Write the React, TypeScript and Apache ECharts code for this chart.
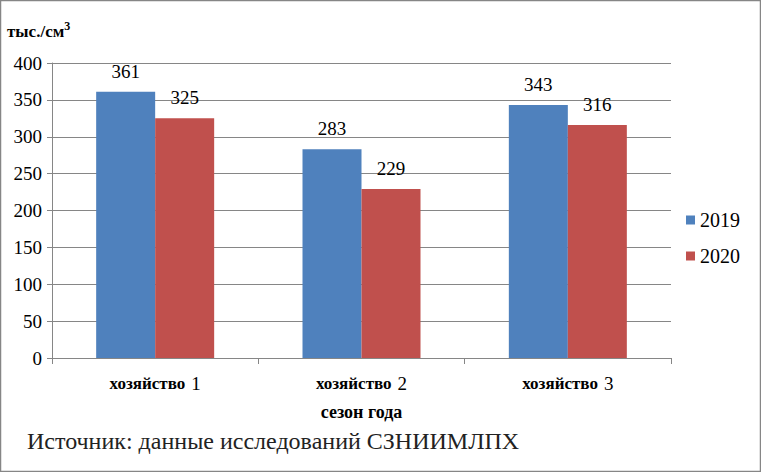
import React, { useEffect, useRef } from "react";
import * as echarts from "echarts";

const categories = ["хозяйство  1", "хозяйство  2", "хозяйство  3"];
const series2019 = [361, 283, 343];
const series2020 = [325, 229, 316];
const seriesNames = ["2019", "2020"];
const yTicks = { min: 0, max: 400, interval: 50 };

export default function App() {
  const ref = useRef<HTMLDivElement>(null);
  useEffect(() => {
    if (!ref.current) return;
    const chart = echarts.init(ref.current, null, { renderer: "svg" });
    const font = "Liberation Serif";
    chart.setOption({
      animation: false,
      backgroundColor: "#fff",
      textStyle: { fontFamily: font },
      grid: { left: 52, right: 90, top: 63, bottom: 114 },
      legend: {
        orient: "vertical",
        left: 681,
        top: 205,
        itemWidth: 9,
        itemHeight: 9,
        itemGap: 16,
        icon: "rect",
        textStyle: { fontFamily: font, fontSize: 20, color: "#000" },
        data: seriesNames,
      },
      xAxis: {
        type: "category",
        data: categories,
        axisLine: { lineStyle: { color: "#868686" } },
        axisTick: { show: true, length: 6, lineStyle: { color: "#868686" } },
        axisLabel: {
          margin: 16,
          color: "#000",
          fontFamily: font,
          formatter: (v: string) => {
            const parts = v.split("  ");
            return `{b|${parts[0]}}  {n|${parts[1]}}`;
          },
          rich: {
            b: { fontFamily: font, fontSize: 17, fontWeight: "bold", color: "#000" },
            n: { fontFamily: font, fontSize: 19, color: "#000" },
          },
        },
        name: "сезон года",
        nameLocation: "middle",
        nameGap: 45,
        nameTextStyle: { fontFamily: font, fontSize: 18, fontWeight: "bold", color: "#000" },
      },
      yAxis: {
        type: "value",
        min: yTicks.min,
        max: yTicks.max,
        interval: yTicks.interval,
        axisLine: { show: true, lineStyle: { color: "#868686" } },
        axisTick: { show: true, length: 5, lineStyle: { color: "#868686" } },
        splitLine: { lineStyle: { color: "#868686" } },
        axisLabel: { color: "#000", fontSize: 19, fontFamily: font, margin: 10 },
      },
      series: [
        {
          name: seriesNames[0],
          type: "bar",
          data: series2019,
          barWidth: 59,
          barGap: "0%",
          itemStyle: { color: "#4F81BD" },
          label: { show: true, position: "top", distance: 11, color: "#000", fontSize: 19, fontFamily: font },
        },
        {
          name: seriesNames[1],
          type: "bar",
          data: series2020,
          barWidth: 59,
          barGap: "0%",
          itemStyle: { color: "#C0504D" },
          label: { show: true, position: "top", distance: 11, color: "#000", fontSize: 19, fontFamily: font },
        },
      ],
      graphic: [
        {
          type: "rect",
          shape: { x: 0.5, y: 0.5, width: 760, height: 471 },
          style: { fill: "none", stroke: "#868686", lineWidth: 1.5 },
          silent: true,
        },
        {
          type: "text",
          left: 7,
          top: 20,
          style: {
            text: "{a|тыс./см}{s|3}",
            rich: {
              a: { fontFamily: font, fontSize: 17, fontWeight: "bold", fill: "#000", verticalAlign: "bottom" },
              s: { fontFamily: font, fontSize: 12, fontWeight: "bold", fill: "#000", verticalAlign: "top", padding: [0, 0, 8, 0] },
            },
          },
        },
        {
          type: "text",
          left: 27,
          top: 429,
          style: {
            text: "Источник: данные исследований СЗНИИМЛПХ",
            fontFamily: font,
            fontSize: 24,
            fill: "#222",
          },
        },
      ],
    });
    return () => chart.dispose();
  }, []);
  return <div ref={ref} style={{ width: 761, height: 472, position: "absolute", left: 0, top: 0 }} />;
}
